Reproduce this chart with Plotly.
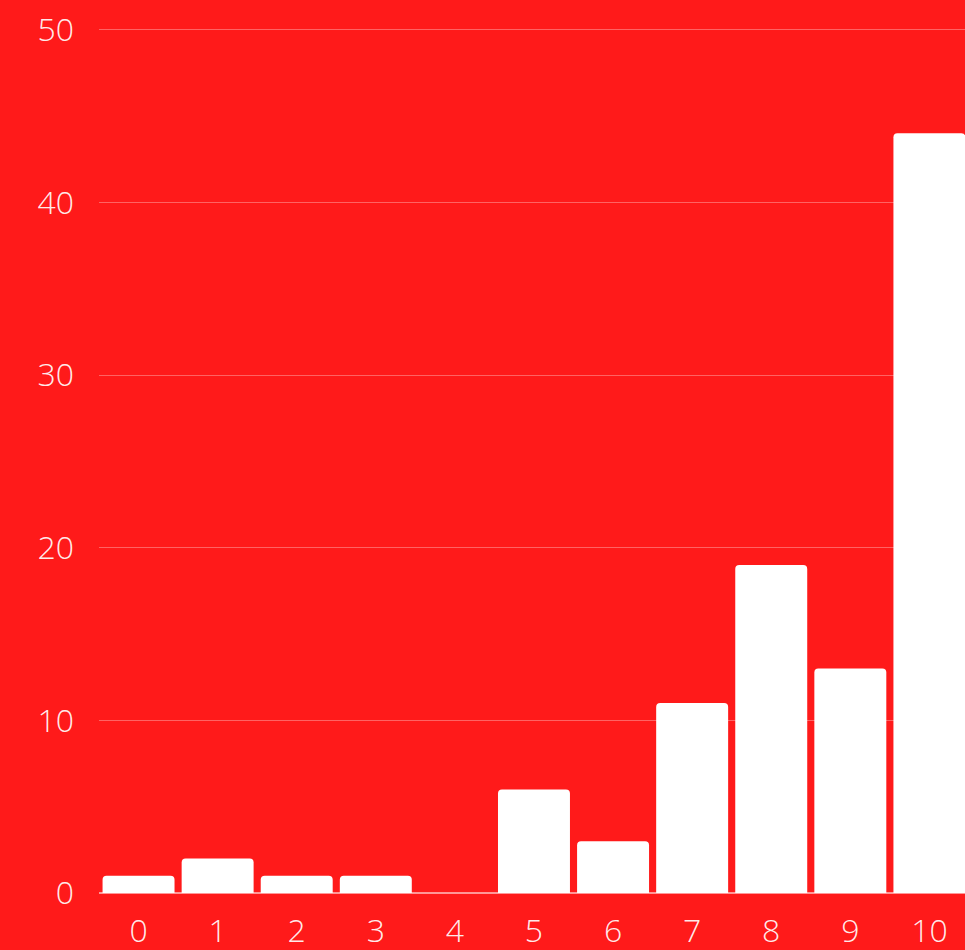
import plotly.graph_objects as go

categories = ["0", "1", "2", "3", "4", "5", "6", "7", "8", "9", "10"]
values = [1, 2, 1, 1, 0, 6, 3, 11, 19, 13, 44]
y_ticks = [0, 10, 20, 30, 40, 50]

BG = "#FF1A1A"
GRID = "rgba(255,255,255,0.32)"
TXT = "rgba(255,255,255,0.92)"

fig = go.Figure(go.Bar(
    x=list(range(len(categories))),
    y=values,
    marker=dict(color="#FFFFFF", line=dict(width=0), cornerradius=4),
    hoverinfo="skip",
))

fig.update_layout(
    width=965, height=950,
    paper_bgcolor=BG, plot_bgcolor=BG,
    margin=dict(l=99, r=0, t=28, b=57, autoexpand=False),
    bargap=0.09,
    showlegend=False,
    font=dict(family="Open Sans", size=32, color=TXT, weight=300),
)
fig.update_xaxes(
    tickmode="array", tickvals=list(range(len(categories))), ticktext=categories,
    range=[-0.5, 10.45], showgrid=False, zeroline=False, showline=False,
    ticks="", ticklabelstandoff=16, automargin=False,
    tickfont=dict(family="Open Sans", size=32, color=TXT, weight=300),
)
fig.update_yaxes(
    tickmode="array", tickvals=y_ticks, range=[0, 50.1],
    showgrid=True, gridcolor=GRID, gridwidth=1.3,
    zeroline=True, zerolinecolor="rgba(255,255,255,0.55)", zerolinewidth=2,
    showline=False, ticks="", ticklabelstandoff=24, automargin=False,
    tickfont=dict(family="Open Sans", size=32, color=TXT, weight=300),
)

fig.write_html("out.html")
